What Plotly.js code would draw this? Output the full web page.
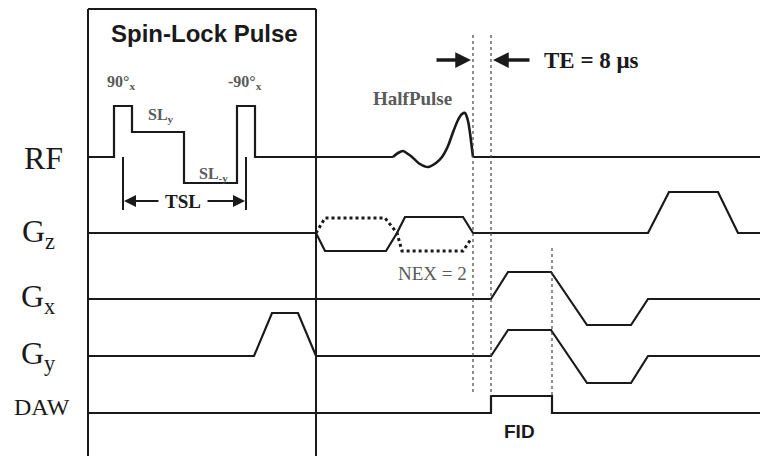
<!DOCTYPE html>
<html>
<head>
<meta charset="utf-8">
<script src="https://cdn.plot.ly/plotly-3.0.1.min.js"></script>
<style>html,body{margin:0;padding:0;background:#fff;}#chart{width:760px;height:456px;}</style>
</head>
<body>
<div id="chart"></div>
<script>
// ---- Data (time points along the sequence and waveform amplitudes) ----
const channels = ['RF', 'G<sub>z</sub>', 'G<sub>x</sub>', 'G<sub>y</sub>', 'DAW'];

const rfSpinLockT = [88, 114, 114, 132, 132, 184, 184, 237, 237, 255, 255, 393];
const rfSpinLockA = [0, 0, 51, 51, 25, 25, -26, -26, 51, 51, 0, 0];

const halfPulseT = [393, 398, 403, 408, 412, 420, 428, 436, 442, 448, 452, 458, 462, 465, 468, 470, 472, 473];
const halfPulseA = [0, 4, 6, 3, 0, -7, -10, -6, 0, 11, 22, 37, 43, 44, 36, 24, 8, 0];

const rfTailT = [473, 760];
const rfTailA = [0, 0];

const gzT = [88, 316, 325, 386, 397, 405, 463, 473, 648, 669, 718, 738, 760];
const gzA = [0, 0, -18, -18, 0, 16, 16, 0, 0, 41, 41, 0, 0];

const gzNex2T = [316, 325, 385, 397, 402, 463, 471];
const gzNex2A = [0, 15, 15, 0, -18, -18, -6];

const gxT = [88, 491, 508, 551, 587, 631, 648, 760];
const gxA = [0, 0, 27, 27, -26, -26, 0, 0];

const gyT = [88, 254, 272, 298, 316, 491, 508, 551, 587, 631, 648, 760];
const gyA = [0, 0, 43, 43, 0, 0, 26, 26, -27, -27, 0, 0];

const dawT = [88, 491, 491, 552, 552, 760];
const dawA = [0, 0, 17, 17, 0, 0];

const spinLockWindow = [88, 316];
const tslMarks = [123, 246];
const teMarks = [473, 491];
const acqEnd = 552;

// ---- Layout helpers (positions / styles) ----
const base = {RF: 157, Gz: 233, Gx: 299, Gy: 356, DAW: 413};
const ink = '#1a1a1a';
const grey = '#5a5a5a';
const toY = (arr, b) => arr.map(a => b - a);

function wave(t, a, b, extra) {
  return Object.assign({
    x: t, y: toY(a, b), mode: 'lines', type: 'scatter', hoverinfo: 'skip',
    line: {color: ink, width: 2.2}
  }, extra || {});
}

const traces = [
  wave(rfSpinLockT, rfSpinLockA, base.RF),
  wave(halfPulseT, halfPulseA, base.RF, {line: {color: ink, width: 2.6, shape: 'spline', smoothing: 0.8}}),
  wave(rfTailT, rfTailA, base.RF),
  wave(gzT, gzA, base.Gz),
  wave(gzNex2T, gzNex2A, base.Gz, {line: {color: ink, width: 3, dash: 'dot'}}),
  wave(gxT, gxA, base.Gx),
  wave(gyT, gyA, base.Gy),
  wave(dawT, dawA, base.DAW)
];

const shapes = [];
const vline = (x, y0, y1, line) => shapes.push({type: 'line', xref: 'x', yref: 'y', x0: x, x1: x, y0: y0, y1: y1, line: line});
// spin-lock box
vline(spinLockWindow[0], 9, 456, {color: ink, width: 2});
vline(spinLockWindow[1], 9, 456, {color: ink, width: 2});
shapes.push({type: 'line', xref: 'x', yref: 'y', x0: spinLockWindow[0], x1: spinLockWindow[1], y0: 9, y1: 9, line: {color: ink, width: 2}});
// TSL markers
tslMarks.forEach(x => vline(x, base.RF, 210, {color: ink, width: 2}));
// TE dotted markers
vline(teMarks[0], 35, 393, {color: '#444', width: 1.2, dash: 'dot'});
vline(teMarks[1], 35, base.DAW - 17, {color: '#444', width: 1.2, dash: 'dot'});
vline(acqEnd, 248, base.DAW - 17, {color: '#444', width: 1.2, dash: 'dot'});

const annotations = [];
const txt = (x, y, text, size, color, family, extra) => annotations.push(Object.assign({
  x: x, y: y, xref: 'x', yref: 'y', text: text, showarrow: false,
  font: {size: size, color: color, family: family}, xanchor: 'center', yanchor: 'middle'
}, extra || {}));
const serif = 'Liberation Serif, Times New Roman, serif';
const sans = 'Liberation Sans, Arial, sans-serif';

// channel labels
txt(43, 158, channels[0], 32, ink, serif);
txt(38, 233, channels[1], 32, ink, serif);
txt(38, 298, channels[2], 32, ink, serif);
txt(38, 355, channels[3], 32, ink, serif);
txt(42, 407, channels[4], 24, ink, serif);

txt(204, 33, '<b>Spin-Lock Pulse</b>', 24, ink, sans);
txt(121, 82, '<b>90°<sub>x</sub></b>', 16, grey, serif);
txt(245, 82, '<b>-90°<sub>x</sub></b>', 16, grey, serif);
txt(161, 115, '<b>SL<sub>y</sub></b>', 16, grey, serif);
txt(213, 174, '<b>SL<sub>-y</sub></b>', 16, grey, serif);
txt(183, 201, '<b>TSL</b>', 19, ink, serif);
txt(412, 98, '<b>HalfPulse</b>', 19, grey, serif);
txt(432, 273, 'NEX = 2', 19, grey, serif);
txt(591, 60, '<b>TE = 8 μs</b>', 23, ink, serif);
txt(519, 431, '<b>FID</b>', 19, ink, sans);

const arrow = (x, y, ax, ay, w, size) => annotations.push({
  x: x, y: y, ax: ax, ay: ay, xref: 'x', yref: 'y', axref: 'x', ayref: 'y',
  text: '', showarrow: true, arrowhead: 2, arrowsize: size, arrowwidth: w, arrowcolor: ink, standoff: 0
});
arrow(tslMarks[0] + 1, 201, 160, 201, 2, 1.2);
arrow(tslMarks[1] - 1, 201, 206, 201, 2, 1.2);
arrow(teMarks[0] - 2, 60, 435, 60, 3.5, 0.9);
arrow(teMarks[1] + 2, 60, 531, 60, 3.5, 0.9);

const layout = {
  width: 760, height: 456,
  margin: {l: 0, r: 0, t: 0, b: 0, pad: 0},
  paper_bgcolor: '#fff', plot_bgcolor: '#fff',
  showlegend: false,
  xaxis: {range: [0, 760], visible: false, fixedrange: true},
  yaxis: {range: [456, 0], visible: false, fixedrange: true},
  shapes: shapes,
  annotations: annotations
};

Plotly.newPlot('chart', traces, layout, {staticPlot: true, displayModeBar: false});
</script>
</body>
</html>
